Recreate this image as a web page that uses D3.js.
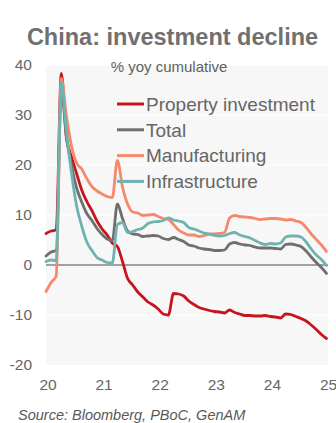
<!DOCTYPE html>
<html>
<head>
<meta charset="utf-8">
<script src="https://cdn.jsdelivr.net/npm/d3@7"></script>
<style>
  html, body { margin: 0; padding: 0; background: #ffffff; }
  svg { display: block; }
  text { font-family: "Liberation Sans", Arial, Helvetica, sans-serif; }
</style>
</head>
<body>
<svg id="chart" width="336" height="423"></svg>
<script>
// Monthly cumulative year-on-year growth (Jan is reported together with Feb)
const months = [
  "2020-10","2020-11","2020-12",
  "2021-02","2021-03","2021-04","2021-05","2021-06","2021-07","2021-08","2021-09","2021-10","2021-11","2021-12",
  "2022-02","2022-03","2022-04","2022-05","2022-06","2022-07","2022-08","2022-09","2022-10","2022-11","2022-12",
  "2023-02","2023-03","2023-04","2023-05","2023-06","2023-07","2023-08","2023-09","2023-10","2023-11","2023-12",
  "2024-02","2024-03","2024-04","2024-05","2024-06","2024-07","2024-08","2024-09","2024-10","2024-11","2024-12",
  "2025-02","2025-03","2025-04","2025-05","2025-06","2025-07","2025-08","2025-09","2025-10"
];

const propertyInvestment = [
  6.3, 6.8, 7.0,
  38.3, 25.6, 21.6, 18.3, 15.0, 12.7, 10.9, 8.8, 7.2, 6.0, 4.4,
  3.7, 0.7, -2.7, -4.0, -5.4, -6.4, -7.4, -8.0, -8.8, -9.8, -10.0,
  -5.7, -5.8, -6.2, -7.2, -7.9, -8.5, -8.8, -9.1, -9.3, -9.4, -9.6,
  -9.0, -9.5, -9.8, -10.1, -10.1, -10.2, -10.2, -10.1, -10.3, -10.4, -10.6,
  -9.8, -9.9, -10.3, -10.7, -11.2, -12.0, -12.9, -13.9, -14.7
];

const totalInvestment = [
  1.8, 2.6, 2.9,
  35.0, 25.6, 19.9, 15.4, 12.6, 10.3, 8.9, 7.3, 6.1, 5.2, 4.9,
  12.2, 9.3, 6.8, 6.2, 6.1, 5.7, 5.8, 5.9, 5.8, 5.3, 5.1,
  5.5, 5.1, 4.7, 4.0, 3.8, 3.4, 3.2, 3.1, 2.9, 2.9, 3.0,
  4.2, 4.5, 4.2, 4.0, 3.9, 3.6, 3.4, 3.4, 3.4, 3.3, 3.2,
  4.1, 4.2, 4.0, 3.7, 2.8, 1.6, 0.5, -0.5, -1.7
];

const manufacturing = [
  -5.3, -3.5, -2.2,
  37.3, 29.8, 23.8, 20.4, 19.2, 17.3, 15.7, 14.8, 14.2, 13.7, 13.5,
  20.9, 15.6, 12.2, 10.6, 10.4, 9.9, 10.0, 10.1, 9.7, 9.3, 9.1,
  8.1, 7.0, 6.4, 6.0, 6.0, 5.7, 5.9, 6.2, 6.2, 6.3, 6.5,
  9.4, 9.9, 9.7, 9.6, 9.5, 9.3, 9.1, 9.2, 9.3, 9.3, 9.2,
  9.0, 9.1, 8.8, 8.5, 7.5, 6.2, 5.1, 4.0, 2.7
];

const infrastructure = [
  0.7, 1.0, 0.9,
  36.6, 26.8, 18.4, 11.8, 7.8, 4.6, 2.9, 1.5, 1.0, 0.5, 0.4,
  8.1, 8.5, 6.5, 6.7, 7.1, 7.4, 8.3, 8.6, 8.7, 8.9, 9.4,
  9.0, 8.8, 8.5, 7.5, 7.2, 6.8, 6.4, 6.2, 5.9, 5.8, 5.9,
  6.3, 6.5, 6.0, 5.7, 5.4, 4.9, 4.4, 4.1, 4.3, 4.2, 4.4,
  5.6, 5.8, 5.8, 5.6, 4.6, 3.2, 2.0, 1.1, -0.1
];

// Year labels sit on every October entry
const xTickMonths = ["2020-10","2021-10","2022-10","2023-10","2024-10","2025-10"];
const xTickLabels = ["20","21","22","23","24","25"];
const yTicks = [-20, -10, 0, 10, 20, 30, 40];

const seriesNames = ["Property investment", "Total", "Manufacturing", "Infrastructure"];
const seriesValues = [propertyInvestment, totalInvestment, manufacturing, infrastructure];
const seriesColors = ["#c4161c", "#6f6f6f", "#f4896c", "#6fb3b0"];

const svg = d3.select("#chart");
const plot = { left: 46, right: 328, top: 66, bottom: 365 };

const x = d3.scalePoint().domain(months).range([plot.left, plot.right - 1.5]);
const y = d3.scaleLinear().domain([-20, 40]).range([plot.bottom, 65]);

// Plot background
svg.append("rect")
  .attr("x", plot.left).attr("y", plot.top)
  .attr("width", plot.right - plot.left).attr("height", plot.bottom - plot.top)
  .attr("fill", "#f7f7f7");

// Title and subtitle
svg.append("text")
  .attr("x", 172.5).attr("y", 45)
  .attr("text-anchor", "middle")
  .attr("font-size", 23.5).attr("font-weight", "bold")
  .attr("fill", "#707070")
  .text("China: investment decline");

svg.append("text")
  .attr("x", 169).attr("y", 71.5)
  .attr("text-anchor", "middle")
  .attr("font-size", 15).attr("fill", "#5f5f5f")
  .text("% yoy cumulative");

// Horizontal gridlines
svg.append("g").selectAll("line")
  .data(yTicks.filter(v => v !== 0 && v !== -20 && v !== 40))
  .join("line")
  .attr("x1", plot.left).attr("x2", plot.right)
  .attr("y1", d => y(d)).attr("y2", d => y(d))
  .attr("stroke", "#ffffff").attr("stroke-width", 1.2);

// Zero line
svg.append("line")
  .attr("x1", plot.left).attr("x2", plot.right)
  .attr("y1", y(0)).attr("y2", y(0))
  .attr("stroke", "#858585").attr("stroke-width", 1.3);

// Y axis labels
const yAxis = d3.axisLeft(y).tickValues(yTicks).tickSize(0).tickPadding(0).tickFormat(d => String(d));
svg.append("g")
  .attr("transform", "translate(32,0)")
  .call(yAxis)
  .call(g => g.select(".domain").remove())
  .call(g => g.selectAll("text")
    .attr("font-size", 15.5).attr("fill", "#666666")
    .attr("font-family", "\"Liberation Sans\", Arial, sans-serif"));

// X axis labels
const xAxis = d3.axisBottom(x).tickValues(xTickMonths).tickSize(0).tickPadding(0)
  .tickFormat(d => xTickLabels[xTickMonths.indexOf(d)]);
svg.append("g")
  .attr("transform", `translate(1.5,${plot.bottom + 14})`)
  .call(xAxis)
  .call(g => g.select(".domain").remove())
  .call(g => g.selectAll("text")
    .attr("font-size", 15.5).attr("fill", "#666666")
    .attr("font-family", "\"Liberation Sans\", Arial, sans-serif"));

// Series lines
const line = d3.line()
  .x((d, i) => x(months[i]))
  .y(d => y(d))
  .curve(d3.curveMonotoneX);

svg.append("g").selectAll("path")
  .data(seriesValues)
  .join("path")
  .attr("d", d => line(d))
  .attr("fill", "none")
  .attr("stroke", (d, i) => seriesColors[i])
  .attr("stroke-width", 2.8)
  .attr("stroke-linejoin", "round")
  .attr("stroke-linecap", "round");

// Legend
const legend = svg.append("g").attr("transform", "translate(117,104)");
const rows = legend.selectAll("g")
  .data(seriesNames)
  .join("g")
  .attr("transform", (d, i) => `translate(0,${i * 25.8})`);
rows.append("line")
  .attr("x1", 0).attr("x2", 27)
  .attr("stroke", (d, i) => seriesColors[i])
  .attr("stroke-width", 3);
rows.append("text")
  .attr("x", 29).attr("y", 0).attr("dy", "0.36em")
  .attr("font-size", 19).attr("fill", "#666666")
  .text(d => d);

// Source note
svg.append("text")
  .attr("x", 18).attr("y", 420)
  .attr("font-size", 14.5).attr("font-style", "italic")
  .attr("fill", "#595959")
  .text("Source: Bloomberg, PBoC, GenAM");
</script>
</body>
</html>
